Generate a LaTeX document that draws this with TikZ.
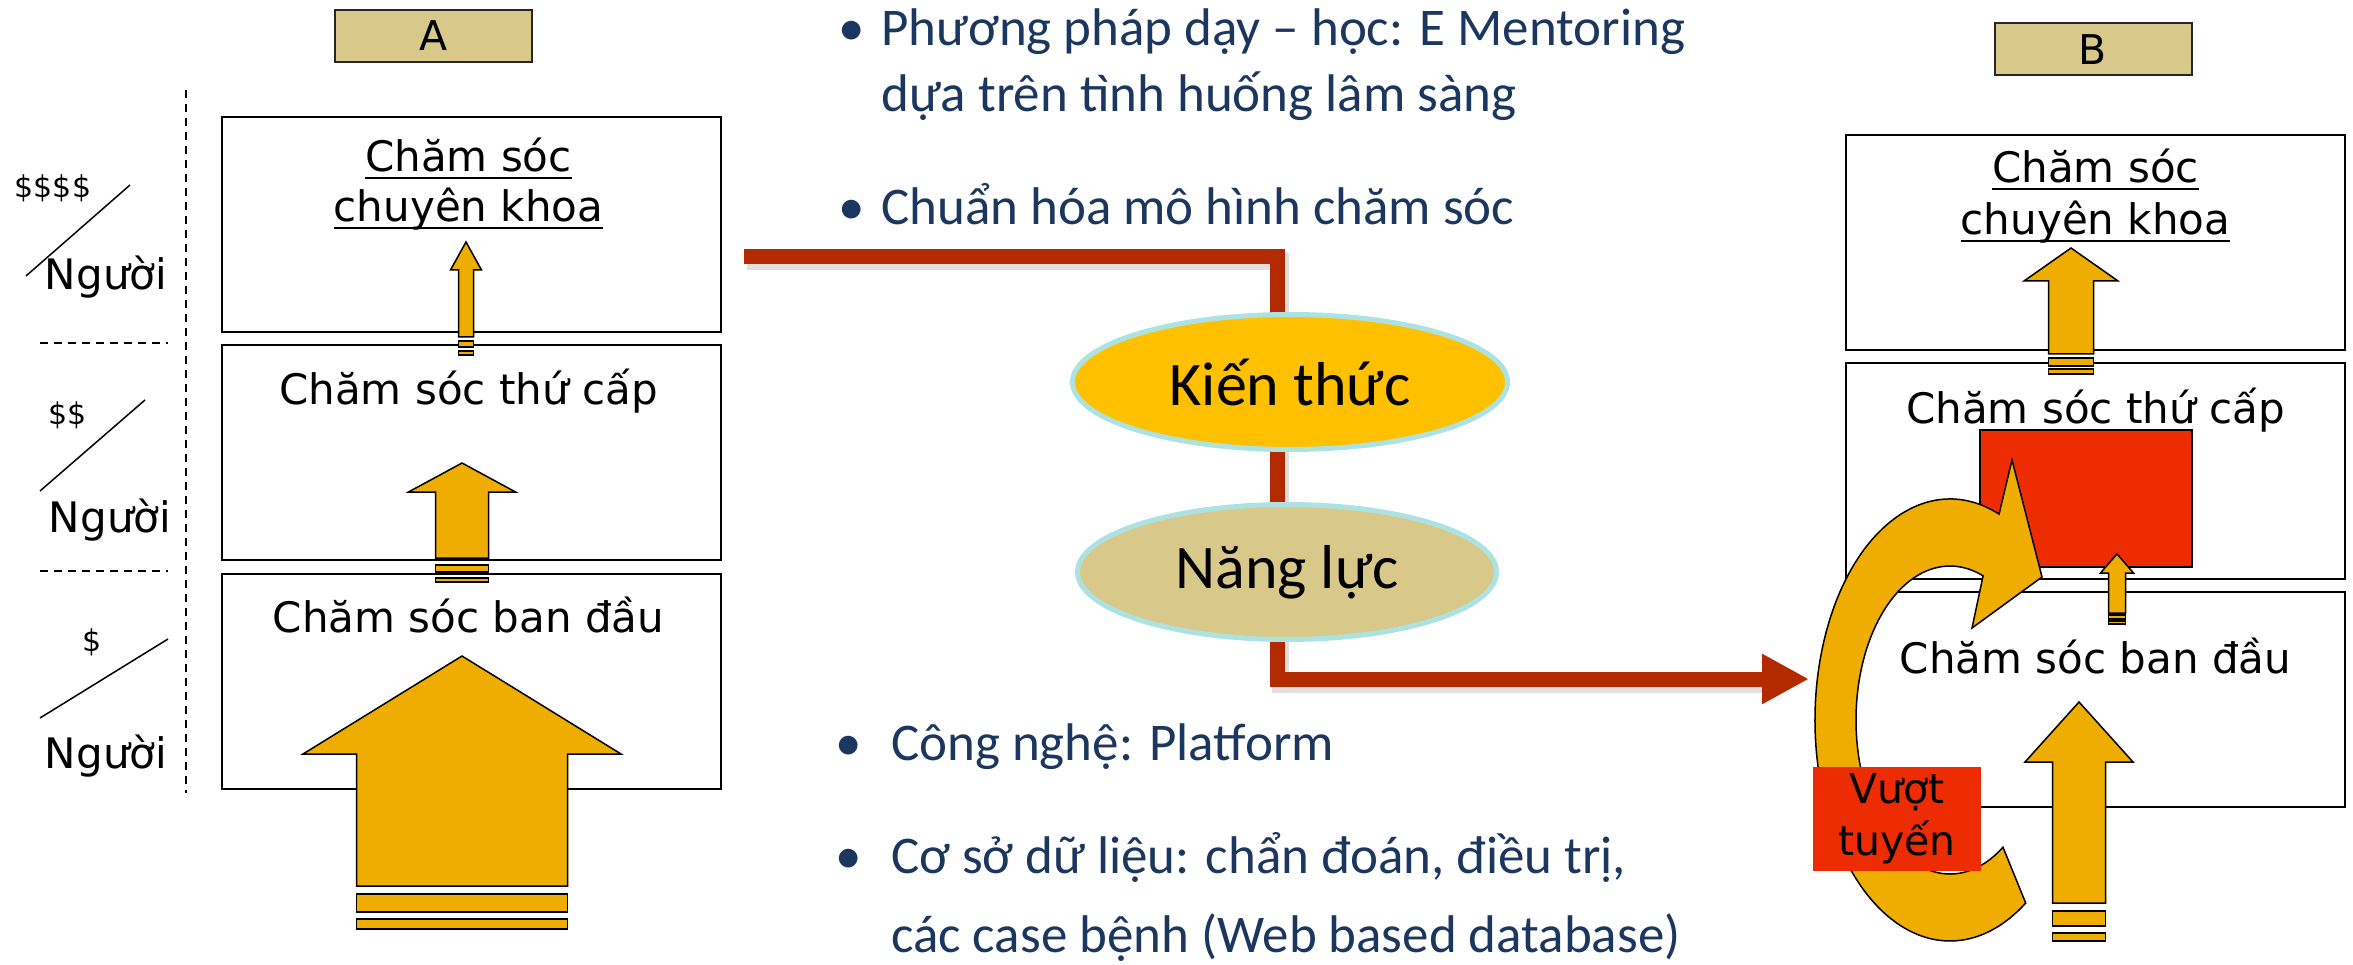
\documentclass[tikz,border=0pt]{standalone}
\usepackage{fontspec}
\setmainfont{DejaVu Sans}
\newfontfamily\calfont{Carlito}
\usetikzlibrary{calc,shapes,arrows.meta,positioning}

\definecolor{tagtan}{RGB}{216,201,139}
\definecolor{amber}{RGB}{239,173,0}
\definecolor{gold}{RGB}{255,192,0}
\definecolor{rim}{RGB}{173,226,226}
\definecolor{rust}{RGB}{180,42,0}
\definecolor{navy}{RGB}{28,55,95}
\definecolor{flame}{RGB}{238,44,4}

\newcommand{\ulword}[1]{\setbox0\hbox{#1}\rlap{\rule[-0.17em]{\wd0}{0.05em}}\box0}
% x, tip y, head base y, head half width, shaft half width, foot y
\newcommand{\blockarrow}[6]{%
  \filldraw[arrowbody] (#1,#2) -- (#1+#4,#3) -- (#1+#5,#3) -- (#1+#5,#6)
    -- (#1-#5,#6) -- (#1-#5,#3) -- (#1-#4,#3) -- cycle;}
% x, half width, top y, bottom y
\newcommand{\footbar}[4]{\filldraw[arrowbody] (#1-#2,#3) rectangle (#1+#2,#4);}

\tikzset{
  level/.style={draw, line width=2pt, minimum width=499pt, minimum height=215pt, inner sep=0pt},
  tag/.style={draw=black!85, fill=tagtan, line width=2pt, minimum width=197pt, minimum height=52pt,
    inner sep=0pt, font=\fontsize{41}{49}\selectfont},
  boxtext/.style={anchor=base, inner sep=0pt, font=\fontsize{42}{50}\selectfont},
  money/.style={inner sep=0pt, font=\fontsize{30}{36}\selectfont},
  arrowbody/.style={fill=amber, draw=black, line width=1.5pt, line join=miter},
  guide/.style={dash pattern=on 8pt off 6pt, line width=1.5pt},
  bubble/.style={ellipse, draw=rim, line width=5pt, inner sep=0pt, minimum height=135pt,
    font=\calfont\fontsize{62}{70}\selectfont},
  point/.style={anchor=base west, inner sep=0pt, text=navy, font=\calfont\fontsize{53}{64}\selectfont},
  flow/.style={draw=rust, line width=15pt, line join=miter},
}

\begin{document}
\begin{tikzpicture}[x=1pt,y=-1pt]
\useasboundingbox (0,0) rectangle (2353,965);

% A
\node[tag] (ta) at (433.5,36) {A};
\node[level] (lt) at (471.5,224.5) {};
\node[level, below=11pt of lt] (lm) {};
\node[level, below=12pt of lm] (lb) {};
\node[boxtext] (lt1) at ($(lt.north)+(-3,56)$) {\ulword{Chăm sóc}};
\node[boxtext] (lt2) at ($(lt.north)+(-3,106)$) {\ulword{chuyên khoa}};
\node[boxtext] (lm1) at ($(lm.north)+(-3,61)$) {Chăm sóc thứ cấp};
\node[boxtext] (lb1) at ($(lb.north)+(-3,59)$) {Chăm sóc ban đầu};

\draw[guide] (186,90) -- (186,793);
\draw[guide] (40,343) -- (168,343);
\draw[guide] (40,571) -- (168,571);

\node[money] (m4) at (53,188) {\$\$\$\$};
\draw[line width=1.5pt] (130,185) -- (26,276);
\node[boxtext] (n4) at (106,290) {Người};
\node[money] (m2) at (68,415) {\$\$};
\draw[line width=1.5pt] (145,400) -- (40,491);
\node[boxtext] (n2) at (110,532) {Người};
\node[money] (m1) at (92,642) {\$};
\draw[line width=1.5pt] (168,639) -- (40,718);
\node[boxtext] (n1) at (106,768) {Người};

\blockarrow{462}{656}{754}{159}{105.5}{886}
\footbar{462}{105.5}{894}{912}
\footbar{462}{105.5}{919}{929}
\blockarrow{462}{463}{492}{53.5}{26.5}{558}
\footbar{462}{26.5}{565}{572}
\footbar{462}{26.5}{578}{582}
\blockarrow{466}{242}{270}{15.5}{7.5}{337}
\footbar{466}{7.5}{341}{347}
\footbar{466}{7.5}{351}{355}

% middle
\coordinate (fs) at (744,257);
\coordinate (fe) at (1809,679);
\draw[flow, draw=black, opacity=0.12, line width=17pt] ($(fs)+(3,5)$) -| ($(1277,679)+(3,5)$) -- ($(fe)+(-45,5)$);
\draw[flow, -{Triangle[length=47pt,width=47pt]}] (fs) -| (1277,679) -- (fe);
\node[bubble, fill=gold, minimum width=435pt] (kt) at (1290,382) {Kiến thức};
\node[bubble, fill=tagtan, minimum width=419pt] (nl) at (1287,572) {Năng lực};

\node[point] (p1a) at (881,46) {Phương pháp dạy – học: E Mentoring};
\node[point] (p1b) at (881,112) {dựa trên tình huống lâm sàng};
\node[point] (p2) at (881,225) {Chuẩn hóa mô hình chăm sóc};
\node[point] (p3) at (891,760) {Công nghệ: Platform};
\node[point] (p4a) at (891,873) {Cơ sở dữ liệu: chẩn đoán, điều trị,};
\node[point] (p4b) at (891,952) {các case bệnh (Web based database)};
\foreach \b/\x/\y in {b1/852/46,b2/852/225,b3/849/760,b4/849/873}
  \node[point, anchor=base] (\b) at (\x,\y) {•};

% B
\node[tag] (tb) at (2093,49.5) {B};
\node[level] (rt) at (2095.5,243) {};
\node[level, below=11pt of rt] (rm) {};
\node[level, below=11pt of rm] (rb) {};
\node[boxtext] (rt1) at ($(rt.north)+(0,48)$) {\ulword{Chăm sóc}};
\node[boxtext] (rt2) at ($(rt.north)+(0,100)$) {\ulword{chuyên khoa}};
\node[boxtext] (rm1) at ($(rm.north)+(0,61)$) {Chăm sóc thứ cấp};
\node[boxtext] (rb1) at ($(rb.north)+(0,83)$) {Chăm sóc ban đầu};
\node[draw, fill=flame, line width=1.5pt, minimum width=212pt, minimum height=137pt, inner sep=0pt] (hot) at (2086,498.5) {};

\blockarrow{2071}{248}{281}{47}{22.5}{354}
\footbar{2071}{22.5}{358}{366}
\footbar{2071}{22.5}{369}{374}
\blockarrow{2117}{554}{573}{16.5}{8.5}{613}
\footbar{2117}{8.5}{615}{619}
\footbar{2117}{8.5}{621}{624}
\blockarrow{2079}{702}{762}{54}{26.5}{903}
\footbar{2079}{26.5}{911}{926}
\footbar{2079}{26.5}{933}{941}

\coordinate (loop) at (1950,720);
\filldraw[arrowbody] ($(loop)+(68.7:135pt and 221pt)$)
  arc[start angle=68.7, end angle=304.1, x radius=135pt, y radius=221pt]
  -- ($(loop)+(-55.7:94pt and 154pt)$)
  arc[start angle=-55.7, end angle=-290.6, x radius=94pt, y radius=154pt]
  -- (1972,628) -- (2042,577) -- (2012,460) -- cycle;

\node[fill=flame, minimum width=168pt, minimum height=104pt, inner sep=0pt, align=center,
  font=\fontsize{41}{52}\selectfont] (vt) at (1897,819) {Vượt\\tuyến};
\end{tikzpicture}
\end{document}
